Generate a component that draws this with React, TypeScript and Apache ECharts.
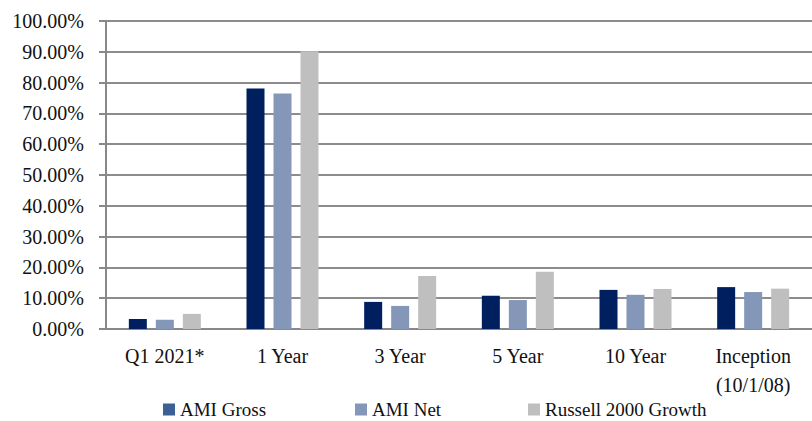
import React, { useEffect, useRef } from "react";
import * as echarts from "echarts";

const categories = ["Q1 2021*", "1 Year", "3 Year", "5 Year", "10 Year", "Inception\n(10/1/08)"];
const amiGross = [3.25, 78.1, 8.8, 10.8, 12.7, 13.6];
const amiNet = [3.0, 76.5, 7.5, 9.4, 11.1, 12.0];
const russell = [4.9, 90.2, 17.2, 18.6, 13.0, 13.1];
const seriesNames = ["AMI Gross", "AMI Net", "Russell 2000 Growth"];
const barColors = ["#001F5F", "#8497B8", "#BFBFBF"];
const legendColors = ["#3A6094", "#8497B8", "#BFBFBF"];
const legendLefts = [163, 355, 528];

const FONT = "Liberation Serif";
const FS = 20;

export default function App() {
  const ref = useRef<HTMLDivElement>(null);
  useEffect(() => {
    if (!ref.current) return;
    const chart = echarts.init(ref.current, undefined, { renderer: "svg" });
    const data = [amiGross, amiNet, russell];
    chart.setOption({
      animation: false,
      grid: { left: 106, top: 21, right: -3, bottom: 92, containLabel: false },
      legend: seriesNames.map((n, i) => ({
        data: [{ name: n, itemStyle: { color: legendColors[i] } }],
        left: legendLefts[i],
        top: 400,
        icon: "rect",
        itemWidth: 12,
        itemHeight: 12,
        itemGap: 6,
        padding: 0,
        textStyle: { fontFamily: FONT, fontSize: 19, color: "#111", padding: [0, 0, 0, 0] },
      })),
      xAxis: {
        type: "category",
        data: categories,
        axisLine: { lineStyle: { color: "#888", width: 2 } },
        axisTick: { length: 6, lineStyle: { color: "#888", width: 2 } },
        axisLabel: { fontFamily: FONT, fontSize: FS, color: "#111", margin: 12, lineHeight: 29 },
      },
      yAxis: {
        type: "value",
        min: 0,
        max: 100,
        interval: 10,
        axisLine: { show: true, lineStyle: { color: "#888", width: 2 } },
        axisTick: { show: true, length: 7, lineStyle: { color: "#888", width: 2 } },
        splitLine: { lineStyle: { color: "#8c8c8c", width: 2 } },
        axisLabel: {
          fontFamily: FONT,
          fontSize: FS,
          color: "#111",
          margin: 22,
          formatter: (v: number) => v.toFixed(2) + "%",
        },
      },
      series: seriesNames.map((n, i) => ({
        name: n,
        type: "bar",
        data: data[i],
        barWidth: 18,
        barGap: "50%",
        itemStyle: { color: barColors[i] },
      })),
    });
    return () => chart.dispose();
  }, []);
  return <div ref={ref} style={{ width: 812, height: 421, position: "absolute", left: 0, top: 0 }} />;
}
